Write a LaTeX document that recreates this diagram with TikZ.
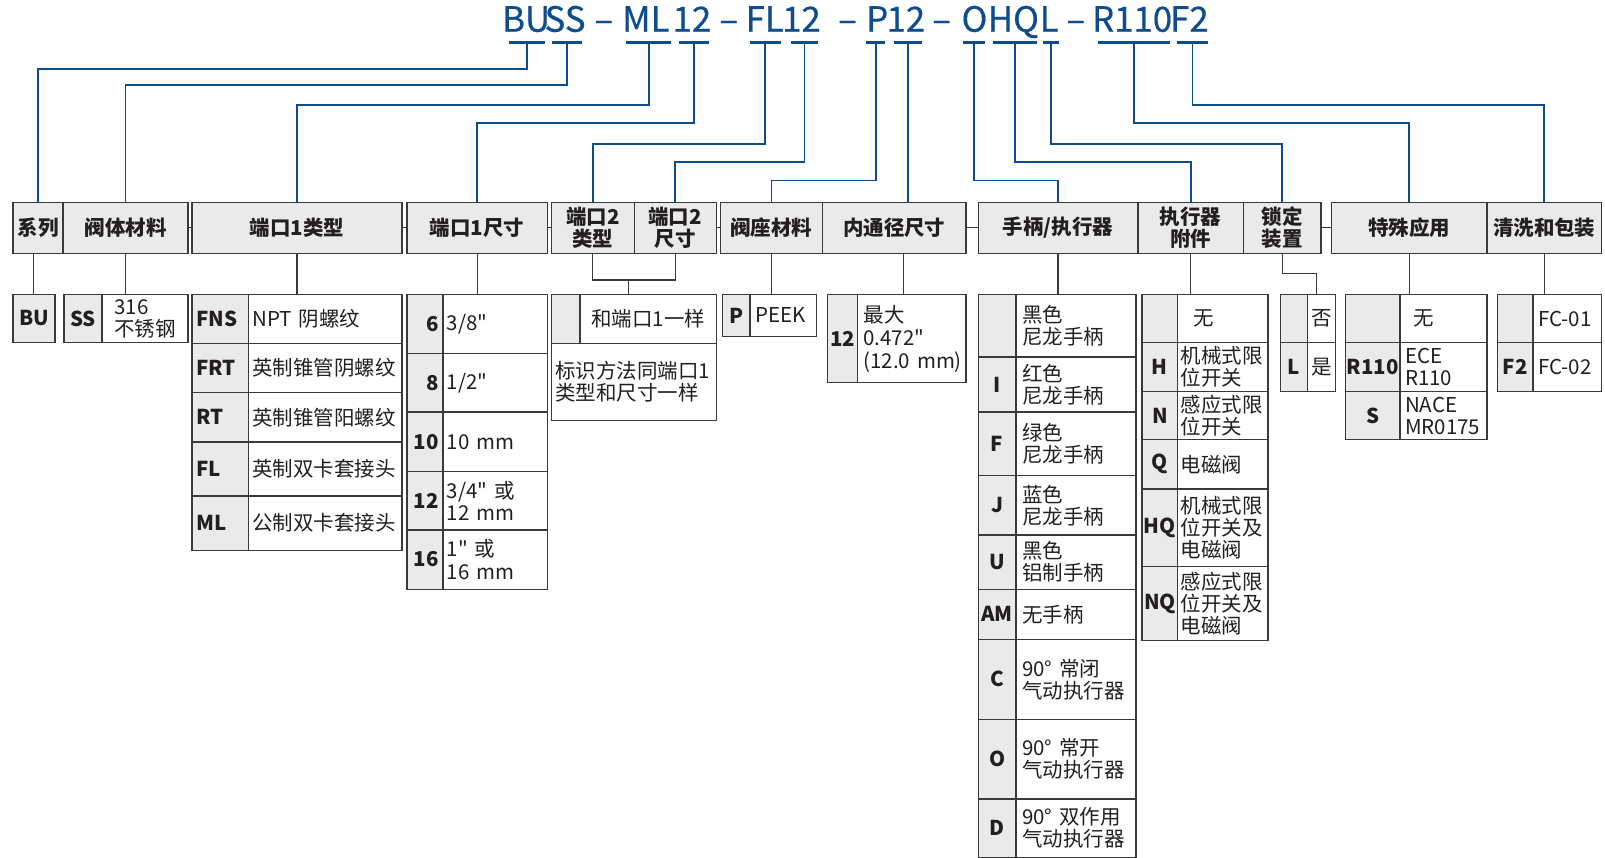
\documentclass[tikz,border=0pt]{standalone}
\usepackage{fontspec}
\setmainfont{Noto Sans CJK SC}[Ligatures=TeXOff]
\newfontfamily\titlefont{Noto Sans CJK SC}[Ligatures=TeXOff, FakeBold=0.5]
\usepackage{tikz}
\definecolor{swBlue}{HTML}{0E4C8E}
\definecolor{swInk}{HTML}{231F20}
\definecolor{swRule}{HTML}{3A3A3A}
\definecolor{swCell}{HTML}{EAEAEA}

\begin{document}
\begin{tikzpicture}[
    x=1pt, y=-1pt, text=swInk,
    hdr/.style={anchor=north west, draw=swRule, fill=swCell, line width=1.3pt,
                minimum height=50pt, inner sep=0pt, align=center,
                font=\bfseries\fontsize{20}{22}\selectfont},
    ck/.style={anchor=north west, draw=swRule, fill=swCell, line width=1.3pt,
               inner sep=0pt, font=\bfseries\fontsize{20}{22}\selectfont},
    ds/.style={anchor=north west, draw=swRule, fill=white, line width=1.3pt,
               inner xsep=4pt, inner ysep=0pt, align=left,
               font=\fontsize{20}{21.5}\selectfont},
    kT1/.style={ck, minimum width=55pt, text width=47pt, align=left, minimum height=#1},
    dT1/.style={ds, minimum width=150pt, text width=142pt, minimum height=#1},
    kS1/.style={ck, minimum width=35pt, text width=27pt, align=right, minimum height=#1},
    dS1/.style={ds, minimum width=102pt, text width=94pt, minimum height=#1},
    kAct/.style={ck, minimum width=37pt, minimum height=#1},
    dAct/.style={ds, minimum width=117pt, inner xsep=6pt, text width=105pt, minimum height=#1},
    kAcc/.style={ck, minimum width=35pt, minimum height=#1},
    dAcc/.style={ds, minimum width=88pt, inner xsep=3pt, text width=82pt, minimum height=#1},
    kLk/.style={ck, minimum width=27pt, minimum height=#1},
    dLk/.style={ds, minimum width=27pt, inner xsep=0pt, align=center, minimum height=#1},
    kSp/.style={ck, minimum width=53pt, minimum height=#1},
    dSp/.style={ds, minimum width=85pt, inner xsep=5pt, text width=75pt, minimum height=#1},
    kCl/.style={ck, minimum width=35pt, minimum height=#1},
    dCl/.style={ds, minimum width=67pt, inner xsep=5pt, text width=57pt, minimum height=#1},
    ttl/.style={anchor=base, inner sep=0pt, text=swBlue, font=\titlefont\fontsize{34}{34}\selectfont},
    useg/.style={fill=swBlue, inner sep=0pt, minimum height=3pt},
    bline/.style={draw=swBlue, line width=1.8pt},
    gline/.style={draw=swRule, line width=1.1pt},
  ]
  \useasboundingbox (0,0) rectangle (1568,838);
  % ordering code
  \node[ttl] (tBU)  at (514,31)  {BU};
  \node[ttl] (tSS)  at (552,31)  {SS};
  \node[ttl] (m1)   at (590,31)  {–};
  \node[ttl] (tML)  at (631,31)  {ML};
  \node[ttl] (t12a) at (676,31)  {12};
  \node[ttl] (m2)   at (712,31)  {–};
  \node[ttl] (tFL)  at (747,31)  {FL};
  \node[ttl] (t12b) at (783,31)  {12};
  \node[ttl] (m3)   at (828,31)  {–};
  \node[ttl] (tP)   at (857,31)  {P};
  \node[ttl] (t12c) at (885,31)  {12};
  \node[ttl] (m4)   at (920,31)  {–};
  \node[ttl] (tO)   at (952,31)  {O};
  \node[ttl] (tHQ)  at (990,31)  {HQ};
  \node[ttl] (tL)   at (1025,31) {L};
  \node[ttl] (m5)   at (1051,31) {–};
  \node[ttl] (tR)   at (1106,31) {R110};
  \node[ttl] (tF2)  at (1162,31) {F2};
  % underlines
  \node[useg, minimum width=35pt] (uBU)  at (514.7,41.4) {};
  \node[useg, minimum width=30pt] (uSS)  at (553.8,41.4) {};
  \node[useg, minimum width=44pt] (uML)  at (633.8,41.4) {};
  \node[useg, minimum width=29pt] (u12a) at (678,41.4)   {};
  \node[useg, minimum width=30pt] (uFL)  at (747.7,41.4) {};
  \node[useg, minimum width=27pt] (u12b) at (786,41.4)   {};
  \node[useg, minimum width=18pt] (uP)   at (855.5,41.4) {};
  \node[useg, minimum width=28pt] (u12c) at (887,41.4)   {};
  \node[useg, minimum width=21pt] (uO)   at (951.5,41.4) {};
  \node[useg, minimum width=43pt] (uHQ)  at (991.3,41.4) {};
  \node[useg, minimum width=16pt] (uL)   at (1027,41.4)  {};
  \node[useg, minimum width=71pt] (uR)   at (1108,41.4)  {};
  \node[useg, minimum width=30pt] (uF2)  at (1165,41.4)  {};
  % header row
  \node[hdr, minimum width=49pt]  (hXL)    at (12,197)   {系列};
  \node[hdr, minimum width=122pt] (hFT)    at (61,197)   {阀体材料};
  \node[hdr, minimum width=205pt] (hP1T)   at (187,197)  {端口1类型};
  \node[hdr, minimum width=137pt] (hP1S)   at (397,197)  {端口1尺寸};
  \node[hdr, minimum width=81pt]  (hP2T)   at (538,197)  {端口2\\类型};
  \node[hdr, minimum width=80pt]  (hP2S)   at (619,197)  {端口2\\尺寸};
  \node[hdr, minimum width=100pt] (hSeat)  at (703,197)  {阀座材料};
  \node[hdr, minimum width=140pt] (hBore)  at (803,197)  {内通径尺寸};
  \node[hdr, minimum width=156pt] (hAct)   at (955,197)  {手柄/执行器};
  \node[hdr, minimum width=103pt] (hAcc)   at (1111,197) {执行器\\附件};
  \node[hdr, minimum width=76pt]  (hLock)  at (1214,197) {锁定\\装置};
  \node[hdr, minimum width=152pt] (hSpec)  at (1300,197) {特殊应用};
  \node[hdr, minimum width=112pt] (hClean) at (1452,197) {清洗和包装};
  % series + body
  \node[ck, minimum width=41pt, minimum height=47pt] (oBU) at (12,287) {BU};
  \node[ck, minimum width=37pt, minimum height=47pt] (kSS) at (62,287) {SS};
  \node[ds, minimum width=84pt, minimum height=47pt, inner xsep=12pt, text width=60pt] (dSS) at (99,287) {316\\不锈钢};
  % port 1 type
  \node[kT1=48] (kFNS) at (187,287) {FNS};
  \node[dT1=48] (dFNS) at (242,287) {NPT 阴螺纹};
  \node[kT1=48] (kFRT) at (187,335) {FRT};
  \node[dT1=48] (dFRT) at (242,335) {英制锥管阴螺纹};
  \node[kT1=48] (kRT)  at (187,383) {RT};
  \node[dT1=48] (dRT)  at (242,383) {英制锥管阳螺纹};
  \node[kT1=53] (kFL)  at (187,431) {FL};
  \node[dT1=53] (dFL)  at (242,431) {英制双卡套接头};
  \node[kT1=53] (kML)  at (187,484) {ML};
  \node[dT1=53] (dML)  at (242,484) {公制双卡套接头};
  % port 1 size
  \node[kS1=58] (k6)   at (397,287) {6};
  \node[dS1=58] (d6)   at (432,287) {3/8"};
  \node[kS1=57] (k8)   at (397,345) {8};
  \node[dS1=57] (d8)   at (432,345) {1/2"};
  \node[kS1=58] (k10)  at (397,402) {10};
  \node[dS1=58] (d10)  at (432,402) {10 mm};
  \node[kS1=57] (k12s) at (397,460) {12};
  \node[dS1=57] (d12s) at (432,460) {3/4" 或\\12 mm};
  \node[kS1=58] (k16)  at (397,517) {16};
  \node[dS1=58] (d16)  at (432,517) {1" 或\\16 mm};
  % port 2
  \node[ck, minimum width=28pt, minimum height=48pt] (kSame) at (538,287) {};
  \node[ds, minimum width=133pt, minimum height=48pt, align=center] (dSame) at (566,287) {和端口1一样};
  \node[ds, minimum width=161pt, minimum height=75pt, text width=153pt] (dNote) at (538,335) {标识方法同端口1\\类型和尺寸一样};
  % seat + bore
  \node[ck, minimum width=27pt, minimum height=41pt] (kP) at (705,287) {P};
  \node[ds, minimum width=65pt, minimum height=41pt, inner xsep=5pt, text width=55pt] (dP) at (732,287) {PEEK};
  \node[ck, minimum width=29pt, minimum height=86pt] (k12) at (808,287) {12};
  \node[ds, minimum width=106pt, minimum height=86pt, inner xsep=3pt, text width=100pt,
        font=\fontsize{20}{22.5}\selectfont] (d12) at (837,287) {\hspace*{3pt}最大\\\hspace*{3pt}0.472"\\\hspace*{3pt}(12.0 mm)};
  % handle / actuator
  \node[kAct=61] (kActA)  at (955,287) {};
  \node[dAct=61] (dActA)  at (992,287) {黑色\\尼龙手柄};
  \node[kAct=54] (kActI)  at (955,348) {I};
  \node[dAct=54] (dActI)  at (992,348) {红色\\尼龙手柄};
  \node[kAct=62] (kActF)  at (955,402) {F};
  \node[dAct=62] (dActF)  at (992,402) {绿色\\尼龙手柄};
  \node[kAct=58] (kActJ)  at (955,464) {J};
  \node[dAct=58] (dActJ)  at (992,464) {蓝色\\尼龙手柄};
  \node[kAct=53] (kActU)  at (955,522) {U};
  \node[dAct=53] (dActU)  at (992,522) {黑色\\铝制手柄};
  \node[kAct=49] (kActAM) at (955,575) {AM};
  \node[dAct=49] (dActAM) at (992,575) {无手柄};
  \node[kAct=78] (kActC)  at (955,624) {C};
  \node[dAct=78] (dActC)  at (992,624) {90° 常闭\\气动执行器};
  \node[kAct=78] (kActO)  at (955,702) {O};
  \node[dAct=78] (dActO)  at (992,702) {90° 常开\\气动执行器};
  \node[kAct=57] (kActD)  at (955,780) {D};
  \node[dAct=57] (dActD)  at (992,780) {90° 双作用\\气动执行器};
  % actuator accessories
  \node[kAcc=47] (kAccA)  at (1115,287) {};
  \node[dAcc=47] (dAccA)  at (1150,287) {\hspace*{12pt}无};
  \node[kAcc=48] (kAccH)  at (1115,334) {H};
  \node[dAcc=48] (dAccH)  at (1150,334) {机械式限\\位开关};
  \node[kAcc=47] (kAccN)  at (1115,382) {N};
  \node[dAcc=47] (dAccN)  at (1150,382) {感应式限\\位开关};
  \node[kAcc=48] (kAccQ)  at (1115,429) {Q};
  \node[dAcc=48] (dAccQ)  at (1150,429) {电磁阀};
  \node[kAcc=76] (kAccHQ) at (1115,477) {HQ};
  \node[dAcc=76] (dAccHQ) at (1150,477) {机械式限\\位开关及\\电磁阀};
  \node[kAcc=72] (kAccNQ) at (1115,553) {NQ};
  \node[dAcc=72] (dAccNQ) at (1150,553) {感应式限\\位开关及\\电磁阀};
  % locking
  \node[kLk=47] (kLkA) at (1250,287) {};
  \node[dLk=47] (dLkA) at (1277,287) {否};
  \node[kLk=48] (kLkL) at (1250,334) {L};
  \node[dLk=48] (dLkL) at (1277,334) {是};
  % special application
  \node[kSp=47] (kSpA) at (1314,287) {};
  \node[dSp=47] (dSpA) at (1367,287) {\hspace*{8pt}无};
  \node[kSp=48] (kSpR) at (1314,334) {R110};
  \node[dSp=48] (dSpR) at (1367,334) {ECE\\R110};
  \node[kSp=47] (kSpS) at (1314,382) {S};
  \node[dSp=47] (dSpS) at (1367,382) {NACE\\MR0175};
  % cleaning
  \node[kCl=47] (kClA) at (1462,287) {};
  \node[dCl=47] (dClA) at (1497,287) {FC-01};
  \node[kCl=48] (kClF) at (1462,334) {F2};
  \node[dCl=48] (dClF) at (1497,334) {FC-02};
  % code -> header (blue)
  \draw[bline] (uBU.center)  -- ++(0,26)  -| (hXL.north);
  \draw[bline] (uSS.center)  -- ++(0,42)  -| (hFT.north);
  \draw[bline] (uML.center)  -- ++(0,61)  -| (hP1T.north);
  \draw[bline] (u12a.center) -- ++(0,79)  -| (hP1S.north);
  \draw[bline] (uFL.center)  -- ++(0,99)  -| (hP2T.north);
  \draw[bline] (u12b.center) -- ++(0,117) -| (hP2S.north);
  \draw[bline] (uP.center)   -- ++(0,135) -| (hSeat.north);
  \draw[bline] (u12c.center) -- (u12c.center |- hBore.north);
  \draw[bline] (uO.center)   -- ++(0,135) -| (hAct.north);
  \draw[bline] (uHQ.center)  -- ++(0,117) -| (hAcc.north);
  \draw[bline] (uL.center)   -- ++(0,99)  -| (hLock.north);
  \draw[bline] (uR.center)   -- ++(0,79)  -| (hSpec.north);
  \draw[bline] (uF2.center)  -- ++(0,61)  -| (hClean.north);
  % header gaps
  \draw[gline] (hFT.east)  -- (hP1T.west);
  \draw[gline] (hP1T.east) -- (hP1S.west);
  \draw[gline] (hP1S.east) -- (hP2T.west);
  \draw[gline] (hP2S.east) -- (hSeat.west);
  \draw[gline] (hBore.east) -- (hAct.west);
  \draw[gline] (hLock.east) -- (hSpec.west);
  % header -> options (grey)
  \coordinate (p2join)   at (614,273.5);
  \coordinate (boreTap)  at ([xshift=9pt]hBore.south);
  \coordinate (lockBend) at (1286,267);
  \draw[gline] (oBU.north) -- (oBU.north |- hXL.south);
  \draw[gline] (hFT.south) -- (hFT.south |- kSS.north);
  \draw[gline] (hP1T.south) -- (hP1T.south |- kFNS.north);
  \draw[gline] (hP1S.south) -- (hP1S.south |- k6.north);
  \draw[gline] (hP2T.south) |- (p2join) -| (hP2S.south);
  \draw[gline] (p2join) -- (p2join |- kSame.north);
  \draw[gline] (hSeat.south) -- (hSeat.south |- kP.north);
  \draw[gline] (boreTap) -- (boreTap |- k12.north);
  \draw[gline] (hAct.south) -- (hAct.south |- kActA.north);
  \draw[gline] (hAcc.south) -- (hAcc.south |- kAccA.north);
  \draw[gline] (hLock.south) |- (lockBend) -- (lockBend |- dLkA.north);
  \draw[gline] (hSpec.south) -- (hSpec.south |- kSpA.north);
  \draw[gline] (hClean.south) -- (hClean.south |- kClA.north);
\end{tikzpicture}
\end{document}
